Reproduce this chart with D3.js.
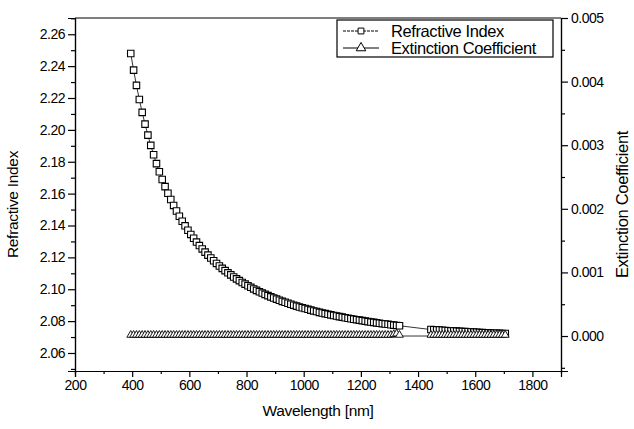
<!DOCTYPE html>
<html>
<head>
<meta charset="utf-8">
<script src="https://cdn.jsdelivr.net/npm/d3@7"></script>
<style>
  body { margin: 0; background: #fff; }
  svg { display: block; font-family: "Liberation Sans", Arial, sans-serif; }
  .axis path, .axis line { stroke: #000; stroke-width: 1.2; }
  .axis text { font-size: 14px; fill: #000; letter-spacing: -0.5px; }
</style>
</head>
<body>
<div id="chart"></div>
<script>
// wavelengths (nm), first run of measurements
var wl1 = [395, 405, 415, 425, 435, 445, 455, 465, 475, 485, 495, 505, 515, 525, 535, 545, 555, 565, 575, 585,
  595, 605, 615, 625, 635, 645, 655, 665, 675, 685, 695, 705, 715, 725, 735, 745, 755, 765, 775, 785,
  795, 805, 815, 825, 835, 845, 855, 865, 875, 885, 895, 905, 915, 925, 935, 945, 955, 965, 975, 985,
  995, 1005, 1015, 1025, 1035, 1045, 1055, 1065, 1075, 1085, 1095, 1105, 1115, 1125, 1135, 1145, 1155, 1165, 1175, 1185,
  1195, 1205, 1215, 1225, 1235, 1245, 1255, 1265, 1275, 1285, 1295, 1305, 1315, 1325, 1335];
var n1 = [2.2479, 2.2375, 2.2279, 2.2191, 2.2110, 2.2036, 2.1967, 2.1903, 2.1844, 2.1788, 2.1737, 2.1689, 2.1644, 2.1602, 2.1563, 2.1526, 2.1491, 2.1458, 2.1427, 2.1398,
  2.1370, 2.1344, 2.1320, 2.1296, 2.1274, 2.1253, 2.1233, 2.1214, 2.1196, 2.1179, 2.1162, 2.1146, 2.1131, 2.1117, 2.1103, 2.1090, 2.1077, 2.1065, 2.1054, 2.1042,
  2.1032, 2.1022, 2.1012, 2.1002, 2.0993, 2.0984, 2.0976, 2.0968, 2.0960, 2.0952, 2.0945, 2.0938, 2.0931, 2.0924, 2.0918, 2.0912, 2.0906, 2.0900, 2.0894, 2.0889,
  2.0884, 2.0879, 2.0874, 2.0869, 2.0864, 2.0860, 2.0855, 2.0851, 2.0847, 2.0843, 2.0839, 2.0835, 2.0832, 2.0828, 2.0825, 2.0821, 2.0818, 2.0815, 2.0812, 2.0809,
  2.0806, 2.0803, 2.0800, 2.0797, 2.0794, 2.0792, 2.0789, 2.0787, 2.0784, 2.0782, 2.0780, 2.0777, 2.0775, 2.0773, 2.0771];
var k1 = [0, 0, 0, 0, 0, 0, 0, 0, 0, 0, 0, 0, 0, 0, 0, 0, 0, 0, 0, 0,
  0, 0, 0, 0, 0, 0, 0, 0, 0, 0, 0, 0, 0, 0, 0, 0, 0, 0, 0, 0,
  0, 0, 0, 0, 0, 0, 0, 0, 0, 0, 0, 0, 0, 0, 0, 0, 0, 0, 0, 0,
  0, 0, 0, 0, 0, 0, 0, 0, 0, 0, 0, 0, 0, 0, 0, 0, 0, 0, 0, 0,
  0, 0, 0, 0, 0, 0, 0, 0, 0, 0, 0, 0, 0.00001, 0.00002, 0];

// second run
var wl2 = [1445, 1455, 1465, 1475, 1485, 1495, 1505, 1515, 1525, 1535, 1545, 1555, 1565, 1575, 1585, 1595,
  1605, 1615, 1625, 1635, 1645, 1655, 1665, 1675, 1685, 1695, 1705];
var n2 = [2.0747, 2.0746, 2.0745, 2.0744, 2.0743, 2.0741, 2.0740, 2.0739, 2.0738, 2.0737, 2.0736, 2.0735, 2.0734, 2.0733, 2.0732, 2.0731,
  2.0730, 2.0729, 2.0728, 2.0727, 2.0726, 2.0725, 2.0724, 2.0724, 2.0723, 2.0722, 2.0722];
var k2 = [0, 0, 0, 0, 0, 0, 0, 0, 0, 0, 0, 0, 0, 0, 0, 0,
  0, 0, 0, 0, 0, 0, 0, 0, 0, 0, 0];

var xTicks = [200, 400, 600, 800, 1000, 1200, 1400, 1600, 1800];
var nTicks = [2.06, 2.08, 2.10, 2.12, 2.14, 2.16, 2.18, 2.20, 2.22, 2.24, 2.26];
var kTicks = [0, 0.001, 0.002, 0.003, 0.004, 0.005];
var legendNames = ["Refractive Index", "Extinction Coefficient"];

var margin = {top: 18, right: 73, bottom: 58, left: 75},
    width = 634 - margin.left - margin.right,
    height = 429 - margin.top - margin.bottom;

var x = d3.scaleLinear().domain([200, 1900]).range([0, width]);
var yN = d3.scaleLinear().domain([2.0487, 2.2702]).range([height, 0]);
var yK = d3.scaleLinear().domain([-0.00055, 0.005]).range([height, 0]);

var svg = d3.select("#chart").append("svg")
    .attr("width", 634)
    .attr("height", 429)
  .append("g")
    .attr("transform", "translate(" + margin.left + "," + margin.top + ")");

var nData = wl1.map(function(w, i) { return {w: w, v: n1[i]}; })
  .concat(wl2.map(function(w, i) { return {w: w, v: n2[i]}; }));
var kData = wl1.map(function(w, i) { return {w: w, v: k1[i]}; })
  .concat(wl2.map(function(w, i) { return {w: w, v: k2[i]}; }));

// frame top
svg.append("line").attr("x1", 0).attr("x2", width).attr("y1", 0).attr("y2", 0)
    .attr("stroke", "#000").attr("stroke-width", 1.2);

// minor ticks
svg.append("g").attr("class", "axis")
    .attr("transform", "translate(0," + height + ")")
    .call(d3.axisBottom(x).tickValues(d3.range(300, 1900, 200)).tickSize(3).tickFormat(""));
svg.append("g").attr("class", "axis")
    .call(d3.axisLeft(yN).tickValues(d3.range(2.05, 2.27, 0.02)).tickSize(4).tickFormat(""));
svg.append("g").attr("class", "axis")
    .attr("transform", "translate(" + width + ",0)")
    .call(d3.axisRight(yK).tickValues([-0.0005, 0.0005, 0.0015, 0.0025, 0.0035, 0.0045]).tickSize(4).tickFormat(""));

// major axes
svg.append("g").attr("class", "axis")
    .attr("transform", "translate(0," + height + ")")
    .call(d3.axisBottom(x).tickValues(xTicks).tickSize(6).tickPadding(3).tickFormat(d3.format("d")));
svg.append("g").attr("class", "axis")
    .call(d3.axisLeft(yN).tickValues(nTicks).tickSize(7).tickPadding(3).tickFormat(d3.format(".2f")));
svg.append("g").attr("class", "axis")
    .attr("transform", "translate(" + width + ",0)")
    .call(d3.axisRight(yK).tickValues(kTicks).tickSize(7).tickPadding(3).tickFormat(d3.format(".3f")));

svg.selectAll(".axis .domain").attr("stroke-width", 1.4);

// titles
svg.append("text")
    .attr("x", width / 2).attr("y", height + 45)
    .attr("text-anchor", "middle").attr("font-size", 15.5).attr("letter-spacing", "-0.3px")
    .text("Wavelength [nm]");
svg.append("text")
    .attr("transform", "translate(" + (-57) + "," + (height / 2 + 10) + ") rotate(-90)")
    .attr("text-anchor", "middle").attr("font-size", 15.5).attr("letter-spacing", "-0.3px")
    .text("Refractive Index");
svg.append("text")
    .attr("transform", "translate(" + (width + 67) + "," + (height / 2 + 10) + ") rotate(-90)")
    .attr("text-anchor", "middle").attr("font-size", 16.5).attr("letter-spacing", "-0.3px")
    .text("Extinction Coefficient");

// lines
var lineN = d3.line().x(function(d) { return x(d.w); }).y(function(d) { return yN(d.v); });
var lineK = d3.line().x(function(d) { return x(d.w); }).y(function(d) { return yK(d.v); });

svg.append("path").datum(nData).attr("d", lineN)
    .attr("fill", "none").attr("stroke", "#000").attr("stroke-width", 0.8);
svg.append("path").datum(kData).attr("d", lineK)
    .attr("fill", "none").attr("stroke", "#000").attr("stroke-width", 0.8);

var sq = d3.symbol().type(d3.symbolSquare).size(42);
var tri = d3.symbol().type(d3.symbolTriangle).size(26);

svg.selectAll(".sq")
    .data(nData)
  .enter().append("path")
    .attr("class", "sq")
    .attr("d", sq)
    .attr("transform", function(d) { return "translate(" + x(d.w) + "," + yN(d.v) + ")"; })
    .attr("fill", "#fff").attr("stroke", "#000").attr("stroke-width", 1.1);

svg.selectAll(".tri")
    .data(kData)
  .enter().append("path")
    .attr("class", "tri")
    .attr("d", tri)
    .attr("transform", function(d) { return "translate(" + x(d.w) + "," + (yK(d.v) - 1) + ")"; })
    .attr("fill", "#fff").attr("stroke", "#000").attr("stroke-width", 0.9);

// legend
var lg = svg.append("g").attr("transform", "translate(" + (337 - margin.left) + "," + (20 - margin.top) + ")");
lg.append("rect").attr("width", 216).attr("height", 37)
    .attr("fill", "#fff").attr("stroke", "#000").attr("stroke-width", 1.2);
legendNames.forEach(function(name, i) {
  var yy = 11 + i * 17;
  lg.append("line").attr("x1", 6).attr("x2", 42).attr("y1", yy).attr("y2", yy)
      .attr("stroke", "#000").attr("stroke-width", 1)
      .attr("stroke-dasharray", i === 0 ? "3,1" : null);
  lg.append("path")
      .attr("d", i === 0 ? d3.symbol().type(d3.symbolSquare).size(34)() : d3.symbol().type(d3.symbolTriangle).size(40)())
      .attr("transform", "translate(24," + yy + ")")
      .attr("fill", "#fff").attr("stroke", "#000").attr("stroke-width", 1);
  lg.append("text")
      .attr("x", 54).attr("y", yy + 5.5)
      .attr("font-size", 16.5).attr("letter-spacing", "-0.4px")
      .text(name);
});
</script>
</body>
</html>
